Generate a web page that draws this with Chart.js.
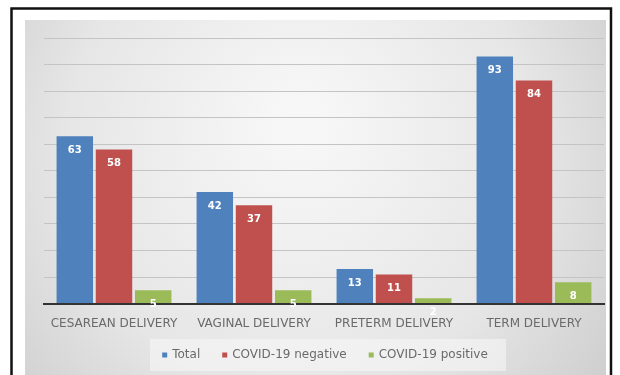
<!DOCTYPE html>
<html><head><meta charset="utf-8">
<script src="https://cdn.jsdelivr.net/npm/chart.js"></script>
<style>html,body{margin:0;padding:0;background:#fff;}#wrap{width:620px;height:375px;position:relative;}</style>
</head><body><div id="wrap"><canvas id="c" width="620" height="375"></canvas></div>
<script>
const categories = ["CESAREAN DELIVERY", "VAGINAL DELIVERY", "PRETERM DELIVERY", "TERM DELIVERY"];
const totalValues = [63, 42, 13, 93];
const negativeValues = [58, 37, 11, 84];
const positiveValues = [5, 5, 2, 8];
const seriesNames = ["Total", "COVID-19 negative", "COVID-19 positive"];
const seriesColors = ['#4f81bd', '#c0504d', '#9bbb59'];

const bgPlugin = {
  id: 'bg',
  beforeDraw(chart) {
    const ctx = chart.ctx;
    ctx.save();
    ctx.fillStyle = '#fff';
    ctx.fillRect(0, 0, 620, 375);
    const g = ctx.createRadialGradient(300, 120, 20, 300, 170, 380);
    g.addColorStop(0, '#f7f7f7');
    g.addColorStop(0.6, '#e6e6e6');
    g.addColorStop(1, '#cdcdcd');
    ctx.fillStyle = g;
    ctx.fillRect(25, 20, 581, 355);
    ctx.fillStyle = 'rgba(246,246,246,0.6)';
    ctx.fillRect(150, 339, 356, 32);
    ctx.strokeStyle = '#111';
    ctx.lineWidth = 2.5;
    ctx.beginPath();
    ctx.moveTo(11.5, 376); ctx.lineTo(11.5, 8.5); ctx.lineTo(611, 8.5); ctx.lineTo(611, 376);
    ctx.stroke();
    ctx.restore();
  },
  afterDatasetsDraw(chart) {
    const ctx = chart.ctx;
    ctx.save();
    ctx.font = 'bold 10px "DejaVu Sans", sans-serif';
    ctx.fillStyle = '#fff';
    ctx.textAlign = 'center';
    ctx.textBaseline = 'middle';
    chart.data.datasets.forEach((ds, i) => {
      const meta = chart.getDatasetMeta(i);
      meta.data.forEach((bar, j) => {
        ctx.fillText(String(ds.data[j]), bar.x, bar.y + 14);
      });
    });
    ctx.restore();
  },
  afterDraw(chart) {
    const ctx = chart.ctx;
    ctx.save();
    ctx.font = '12px "DejaVu Sans", sans-serif';
    ctx.textBaseline = 'middle';
    ctx.textAlign = 'left';
    const box = 5, gap = 5, itemGap = 22;
    const widths = chart.data.datasets.map(ds => box + gap + ctx.measureText(ds.label).width);
    const total = widths.reduce((a, b) => a + b, 0) + itemGap * (widths.length - 1);
    let x = 325 - total / 2;
    const y = 355;
    chart.data.datasets.forEach((ds, i) => {
      ctx.fillStyle = ds.backgroundColor;
      ctx.fillRect(x, y - box / 2, box, box);
      ctx.fillStyle = '#6a6a6a';
      ctx.fillText(ds.label, x + box + gap, y);
      x += widths[i] + itemGap;
    });
    ctx.restore();
  }
};

new Chart(document.getElementById('c'), {
  type: 'bar',
  data: {
    labels: categories,
    datasets: [
      { label: seriesNames[0], data: totalValues, backgroundColor: seriesColors[0] },
      { label: seriesNames[1], data: negativeValues, backgroundColor: seriesColors[1] },
      { label: seriesNames[2], data: positiveValues, backgroundColor: seriesColors[2] }
    ]
  },
  options: {
    responsive: false,
    animation: false,
    devicePixelRatio: 1,
    layout: { padding: { left: 44, right: 16, top: 38, bottom: 39 } },
    datasets: { bar: { categoryPercentage: 0.84, barPercentage: 0.93 } },
    plugins: {
      tooltip: { enabled: false },
      legend: { display: false }
    },
    scales: {
      x: {
        grid: { display: false },
        border: { color: '#333', width: 2 },
        ticks: { color: '#6a6a6a', font: { family: '"DejaVu Sans", sans-serif', size: 12 }, padding: 5, maxRotation: 0, autoSkip: false }
      },
      y: {
        min: 0, max: 100,
        ticks: { display: false, stepSize: 10 },
        border: { display: false },
        grid: { color: '#c4c4c4', lineWidth: 1, drawTicks: false }
      }
    }
  },
  plugins: [bgPlugin]
});
</script></body></html>
